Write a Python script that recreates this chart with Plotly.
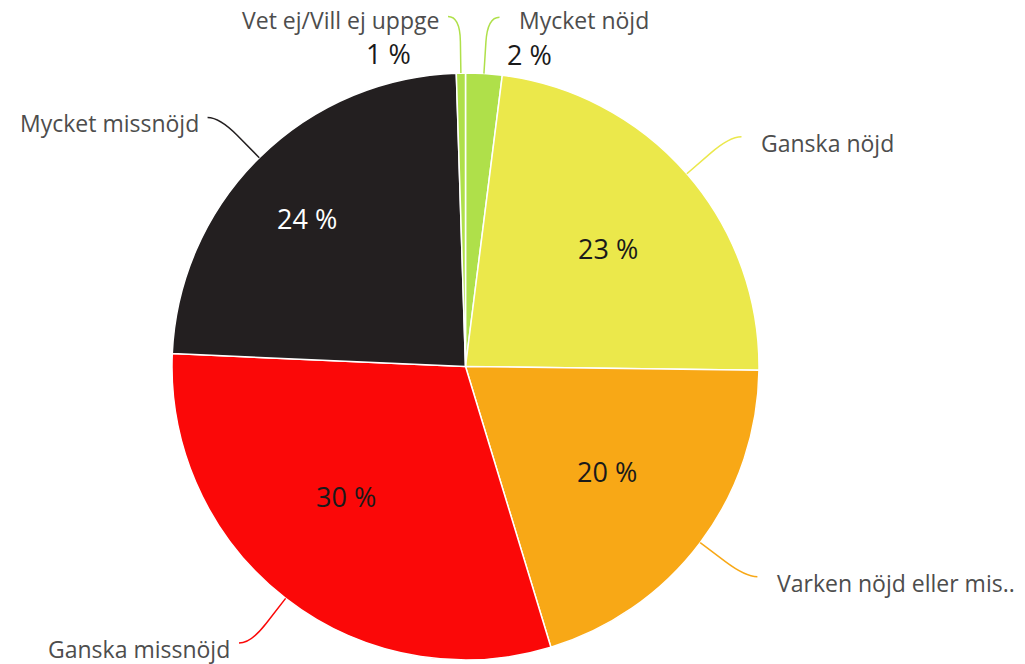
import math
import plotly.graph_objects as go

# ---- data ----
categories = ["Mycket nöjd", "Ganska nöjd", "Varken nöjd eller mis..", "Ganska missnöjd",
              "Mycket missnöjd", "Vet ej/Vill ej uppge"]
values = [2.0, 23.2, 20.1, 30.4, 23.8, 0.5]
pct_labels = ["2 %", "23 %", "20 %", "30 %", "24 %", "1 %"]

# ---- style ----
colors = ["#afe04a", "#ebe84b", "#f8a816", "#fb0808", "#231f20", "#afe04a"]
pct_colors = ["#1a1a1a", "#1a1a1a", "#1a1a1a", "#1a1a1a", "#ffffff", "#1a1a1a"]
inside = [False, True, True, True, True, False]
inside_r = [0, 0.63, 0.60, 0.60, 0.74, 0]
inside_da = [0, 1.4, -0.4, 4.8, -2.3, 0]
out_pct_dx = [30, 0, 0, 0, 0, -60]

W, H = 1025, 664
CX, CY, R = 465.5, 366.5, 293.5
R_BEND0, R_BEND, RUN = 325, 350, 12
GAP_RIGHT, GAP_LEFT = 19, 8
FONT = "Open Sans"


def px(x, y):
    return x / W, 1 - y / H


def polar(angle_deg, r):
    a = math.radians(angle_deg)
    return CX + r * math.sin(a), CY - r * math.cos(a)


fig = go.Figure(go.Pie(
    labels=categories,
    values=values,
    sort=False,
    direction="clockwise",
    rotation=0,
    marker=dict(colors=colors, line=dict(color="#ffffff", width=1.5)),
    textinfo="none",
    hoverinfo="label+percent",
    showlegend=False,
    domain=dict(x=[(CX - R) / W, (CX + R) / W], y=[1 - (CY + R) / H, 1 - (CY - R) / H]),
))

total = sum(values)
cum = 0.0
shapes, annotations = [], []
for i, v in enumerate(values):
    start = cum / total * 360
    cum += v
    end = cum / total * 360
    mid = (start + end) / 2
    side = 1 if math.sin(math.radians(mid)) >= 0 else -1
    ax, ay = polar(mid, R)
    b0x, b0y = polar(mid, R_BEND0)
    bx, by = polar(mid, R_BEND)
    cx_, cy_ = bx + side * RUN, by
    p = [px(ax, ay), px(b0x, b0y), px(bx, by), px(cx_, cy_)]
    path = "M {},{} L {},{} Q {},{} {},{}".format(*[c for pt in p for c in pt])
    shapes.append(dict(type="path", path=path, xref="paper", yref="paper",
                       line=dict(color=colors[i], width=1.5)))
    gap = GAP_RIGHT if side > 0 else GAP_LEFT
    dy = 6 if inside[i] else 3
    lx, ly = px(cx_ + side * gap, cy_ + dy)
    annotations.append(dict(x=lx, y=ly, xref="paper", yref="paper", text=categories[i],
                            showarrow=False, xanchor="left" if side > 0 else "right",
                            yanchor="middle", borderpad=0,
                            font=dict(family=FONT, size=23, color="#4d4d4d")))
    if inside[i]:
        tx, ty = polar(mid + inside_da[i], inside_r[i] * R)
        tx, ty = px(tx, ty)
    else:
        tx, ty = px(cx_ + out_pct_dx[i], cy_ + 37)
    annotations.append(dict(x=tx, y=ty, xref="paper", yref="paper", text=pct_labels[i],
                            showarrow=False, xanchor="center", yanchor="middle", borderpad=0,
                            font=dict(family=FONT, size=27, color=pct_colors[i])))

fig.update_layout(
    width=W, height=H,
    margin=dict(l=0, r=0, t=0, b=0),
    paper_bgcolor="#ffffff",
    plot_bgcolor="#ffffff",
    shapes=shapes,
    annotations=annotations,
)

fig.write_html("out.html", config={"displayModeBar": False},
               post_script="document.body.style.margin='0';")
